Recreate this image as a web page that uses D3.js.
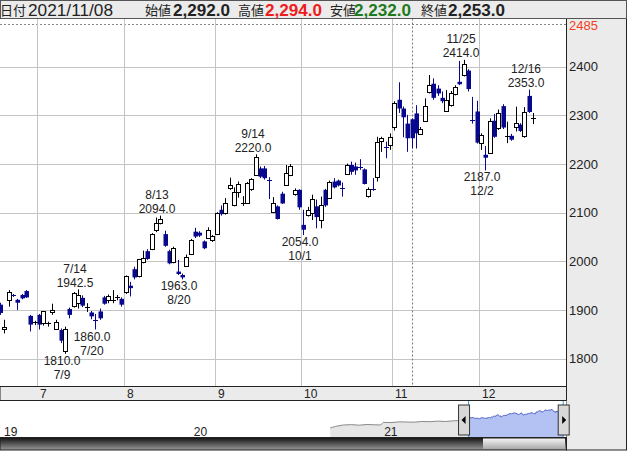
<!DOCTYPE html>
<html><head><meta charset="utf-8">
<script src="https://cdn.jsdelivr.net/npm/d3@7/dist/d3.min.js"></script>
<style>
html,body{margin:0;padding:0;background:#fff;}
svg{display:block;font-family:"Liberation Sans","Noto Sans CJK JP",sans-serif;}
</style></head><body>
<svg id="c" width="636" height="454"></svg>
<script>
// ---------- data ----------
const dates = ["6/18","6/21","6/22","6/23","6/24","6/25","6/28","6/29","6/30",
"7/1","7/2","7/5","7/6","7/7","7/8","7/9","7/12","7/13","7/14","7/15","7/16","7/19","7/20","7/21","7/26","7/27","7/28","7/29","7/30",
"8/2","8/3","8/4","8/5","8/6","8/10","8/11","8/12","8/13","8/16","8/17","8/18","8/19","8/20","8/23","8/24","8/25","8/26","8/27","8/30","8/31",
"9/1","9/2","9/3","9/6","9/7","9/8","9/9","9/10","9/13","9/14","9/15","9/16","9/17","9/21","9/22","9/24","9/27","9/28","9/29","9/30",
"10/1","10/4","10/5","10/6","10/7","10/8","10/11","10/12","10/13","10/14","10/15","10/18","10/19","10/20","10/21","10/22","10/25","10/26","10/27","10/28","10/29",
"11/1","11/2","11/4","11/5","11/8","11/9","11/10","11/11","11/12","11/15","11/16","11/17","11/18","11/19","11/22","11/24","11/25","11/26","11/29","11/30",
"12/1","12/2","12/3","12/6","12/7","12/8","12/9","12/10","12/13","12/14","12/15","12/16","12/17"];
const open = [1911,1860,1921,1930,1921,1931,1939,1888,1872,
1890,1872,1872,1895,1862,1859,1815,1902,1909,1914,1925,1906,1895,1880,1897,1926,1920,1918,1923,1923,
1936,1950,1984,1969,1998,2021,2025,2063,2080,2056,2021,1998,1979,1972,1991,2015,2061,2059,2041,2049,2044,
2056,2106,2099,2150,2116,2143,2118,2119,2148,2178,2191,2191,2168,2101,2113,2139,2157,2178,2138,2147,
2075,2095,2100,2113,2084,2147,2132,2164,2166,2151,2181,2198,2195,2193,2189,2133,2149,2174,2247,2235,2239,
2276,2332,2314,2283,2292,2304,2263,2289,2347,2365,2355,2336,2310,2321,2344,2369,2383,2392,2290,2308,
2244,2219,2224,2289,2273,2319,2254,2258,2276,2281,2256,2340,2293];
const high = [1915,1880,1941,1933,1923,1933,1941,1890,1878,
1892,1898,1876,1913,1880,1862,1866,1905,1937,1942.5,1930,1914,1898,1892,1903,1929,1932,1941,1931,1926,
1971,1958,1989,2005,2022,2025,2058,2090,2094,2063,2024,2030,2003,1975,2014,2046,2069,2062,2043,2070,2054,
2101,2115,2130,2172,2152,2164,2134,2163,2171,2220,2195,2196,2173,2132,2115,2143,2198,2200,2150,2148,
2106,2112,2137,2127,2133,2149,2166,2171,2168,2162,2201,2205,2203,2210,2191,2152,2171,2256,2256,2246,2263,
2329,2368,2318,2301,2294,2321,2276,2335,2383,2376,2362,2349,2352,2350,2362,2412,2414,2395,2338,2330,
2263,2237,2294,2303,2312,2323,2287,2262,2318,2284,2317,2353,2305];
const low = [1890,1852,1907,1927,1900,1922,1925,1856,1869,
1860,1868,1866,1890,1860,1832,1810,1883,1905,1903,1906,1896,1881,1860,1880,1911,1914,1914,1920,1907,
1933,1928,1963,1967,1996,2003,2023,2060,2076,2030,1994,1996,1972,1963,1989,2013,2048,2050,2025,2047,2040,
2054,2094,2096,2147,2113,2131,2114,2118,2145,2176,2171,2168,2128,2099,2086,2118,2155,2175,2135,2106,
2054,2092,2085,2068,2068,2112,2130,2150,2154,2133,2180,2178,2178,2188,2158,2131,2145,2164,2225,2212,2229,
2269,2305,2255,2225,2232,2232,2260,2287,2345,2332,2340,2325,2308,2318,2341,2362,2380,2349,2283,2242,
2229,2187,2222,2254,2270,2272,2243,2248,2267,2266,2254,2305,2282];
const close = [1894,1865,1938,1929,1915,1924,1926,1870,1876,
1870,1897,1873,1900,1876,1837,1861,1890,1935,1931,1909,1907,1887,1879,1883,1913,1928,1921,1926,1911,
1969,1945,1967,2004,2006,2005,2056,2078,2088,2032,1996,2027,1974,1967,2010,2044,2051,2053,2027,2065,2052,
2099,2097,2119,2157,2143,2160,2119,2161,2169,2214,2174,2171,2167,2119,2087,2119,2181,2196,2147,2111,
2065,2106,2128,2091,2115,2115,2164,2152,2156,2150,2199,2184,2187,2189,2159,2148,2148,2246,2254,2234,2255,
2326,2314,2296,2253,2253,2263,2273,2319,2362,2336,2345,2329,2332,2345,2359,2364,2406,2354,2286,2244,
2260,2213,2289,2256,2304,2275,2258,2250,2284,2268,2306,2307,2294];

const yTicks = [1800,1900,2000,2100,2200,2300,2400];
const yTop = 2485;
const monthStarts = ["7/1","8/2","9/1","10/1","11/1","12/1"];
const monthLabels = ["7","8","9","10","11","12"];
const cursorDate = "11/8";

const markDates  = ["7/14","7/9","7/20","8/13","8/20","9/14","10/1","11/25","12/2","12/16"];
const markKinds  = ["high","low","low","high","low","high","low","high","low","high"];
const markValues = ["1942.5","1810.0","1860.0","2094.0","1963.0","2220.0","2054.0","2414.0","2187.0","2353.0"];

const headerLabels = ["日付","始値","高値","安値","終値"];
const headerValues = ["2021/11/08","2,292.0","2,294.0","2,232.0","2,253.0"];

// navigator (overview) series: year labels and earlier closes
const navYears = ["19","20","21"];
const navEarlyDates = ["2020-09-25","2020-10-05","2020-10-20","2020-11-05","2020-11-20","2020-12-05","2020-12-20","2020-12-31",
 "2021-01-05","2021-01-20","2021-02-05","2021-02-20","2021-03-05","2021-03-20","2021-04-05","2021-04-20","2021-05-05","2021-05-20","2021-06-05","2021-06-17"];
const navEarlyClose = [1330,1420,1500,1520,1490,1530,1510,1500,
 1650,1640,1680,1670,1660,1700,1690,1720,1700,1740,1760,1850];

// ---------- drawing ----------
const svg = d3.select("#c");
const W = 636, H = 454;
const plotL = 0, plotR = 566.5, plotT = 18.5, plotB = 386.5;
const step = 4.3333;

const x = d3.scalePoint().domain(dates).range([0, (dates.length-1)*step]);
const y = d3.scaleLinear().domain([1800, 2400]).range([358.7, 66.7]);
const cx = d => Math.round(x(d));

const BLUE = "#08088e";
const GRID = "#c4c4c4";

svg.append("rect").attr("width",W).attr("height",H).attr("fill","#fff");

const clipId = "plotclip";
svg.append("clipPath").attr("id",clipId).append("rect")
  .attr("x",plotL).attr("y",plotT).attr("width",plotR-plotL).attr("height",plotB-plotT);
const g = svg.append("g").attr("clip-path","url(#"+clipId+")");

g.selectAll("line.hg").data(yTicks).join("line")
  .attr("x1",plotL).attr("x2",plotR)
  .attr("y1",d=>Math.round(y(d))+0.5).attr("y2",d=>Math.round(y(d))+0.5)
  .attr("stroke",GRID).attr("stroke-width",1);
g.append("line").attr("x1",plotL).attr("x2",plotR)
  .attr("y1",Math.round(y(yTop))-0.5).attr("y2",Math.round(y(yTop))-0.5)
  .attr("stroke","#888").attr("stroke-dasharray","2,2");
g.selectAll("line.vg").data(monthStarts).join("line")
  .attr("x1",d=>cx(d)-1.5).attr("x2",d=>cx(d)-1.5)
  .attr("y1",plotT).attr("y2",plotB)
  .attr("stroke",GRID);
g.append("line").attr("x1",cx(cursorDate)+0.5).attr("x2",cx(cursorDate)+0.5)
  .attr("y1",plotT).attr("y2",plotB)
  .attr("stroke","#777").attr("stroke-dasharray","2,2");

// candles
const idx = d3.range(dates.length);
const cg = g.append("g");
idx.forEach(i=>{
  const d = dates[i];
  const xc = cx(d);
  const up = close[i] >= open[i];
  const col = up ? "#000" : BLUE;
  cg.append("line").attr("x1",xc+0.5).attr("x2",xc+0.5)
    .attr("y1",y(high[i])).attr("y2",y(low[i])).attr("stroke",col).attr("stroke-width",1);
  const yo = y(open[i]), yc = y(close[i]);
  const top = Math.min(yo,yc), h = Math.abs(yo-yc);
  if (h < 2) {
    cg.append("line").attr("x1",xc-2).attr("x2",xc+3)
      .attr("y1",Math.round(top)+0.5).attr("y2",Math.round(top)+0.5)
      .attr("stroke",col).attr("stroke-width",1.2);
  } else if (up) {
    cg.append("rect").attr("x",xc-1.5).attr("width",4)
      .attr("y",Math.round(top)+0.5).attr("height",Math.max(1,Math.round(h)))
      .attr("fill","#fff").attr("stroke","#000").attr("stroke-width",1);
  } else {
    cg.append("rect").attr("x",xc-1.5).attr("width",4.5)
      .attr("y",top).attr("height",h).attr("fill",BLUE);
  }
});

// high / low annotations
const ag = g.append("g").attr("font-size",12).attr("fill","#222").attr("text-anchor","middle");
markDates.forEach((d,k)=>{
  const i = dates.indexOf(d);
  const tx = cx(d) - 3;
  if (markKinds[k]==="high") {
    const yb = y(high[i]) - 2.5;
    ag.append("text").attr("x",tx).attr("y",yb-14).text(d);
    ag.append("text").attr("x",tx).attr("y",yb).text(markValues[k]);
  } else {
    const yb = y(low[i]) + 11;
    ag.append("text").attr("x",tx).attr("y",yb).text(markValues[k]);
    ag.append("text").attr("x",tx).attr("y",yb+14).text(d);
  }
});

// right axis panel
svg.append("rect").attr("x",plotR).attr("y",plotT).attr("width",626.5-plotR).attr("height",450-plotT)
  .attr("fill","#ebebeb").attr("stroke","#222").attr("stroke-width",1);
svg.selectAll("text.yl").data(yTicks).join("text")
  .attr("x",569).attr("y",d=>y(d)+4.5).attr("font-size",13).attr("fill","#222").text(d=>d);
svg.append("text").attr("x",569).attr("y",y(yTop)+5).attr("font-size",13).attr("fill","#f2401e").text(yTop);

// header
svg.append("rect").attr("x",0.5).attr("y",0.5).attr("width",626).attr("height",18)
  .attr("fill","#ebebeb").attr("stroke","#555");
const hx = [0,145,238,330,421];
const vx = [28,173,265,354,448];
const vcol = ["#222","#222","#ee1c1c","#1d7a1d","#222"];
headerLabels.forEach((t,k)=>{
  svg.append("text").attr("x",hx[k]).attr("y",15).attr("font-size",13)
    .attr("font-family","'Noto Sans CJK JP',sans-serif").attr("fill","#222").text(t);
  svg.append("text").attr("x",vx[k]).attr("y",15.5).attr("font-size",16)
    .attr("font-weight",k===0?"normal":"bold").attr("fill",vcol[k])
    .attr("textLength",k===0?85:57).attr("lengthAdjust","spacingAndGlyphs").text(headerValues[k]);
});

// month strip
svg.append("rect").attr("x",0).attr("y",386.5).attr("width",plotR).attr("height",14)
  .attr("fill","#ebebeb").attr("stroke","#222");
monthStarts.forEach((d,k)=>{
  svg.append("text").attr("x",cx(d)+1).attr("y",398).attr("font-size",12).attr("fill","#222").text(monthLabels[k]);
});

// navigator
const navT = 400.5, navB = 437.5;
svg.append("rect").attr("x",0).attr("y",navT).attr("width",plotR).attr("height",navB-navT).attr("fill","#fff");
const parse = d3.timeParse("%Y-%m-%d");
const nx = d3.scaleTime().domain([new Date(2019,0,1), new Date(2022,0,1)]).range([1, 571]);
const ny = d3.scaleLinear().domain([1000,2500]).range([433.75, 407.5]);
const early = navEarlyDates.map((d,i)=>({t:parse(d), v:navEarlyClose[i]}));
const recent = dates.map((d,i)=>{const p=d.split("/"); return {t:new Date(2021,+p[0]-1,+p[1]), v:close[i]};});
const area = d3.area().x(d=>nx(d.t)).y0(navB).y1(d=>ny(d.v));
const line = d3.line().x(d=>nx(d.t)).y(d=>ny(d.v));
const earlyAll = early.concat([recent[0]]);
svg.append("path").attr("d",area(earlyAll)).attr("fill","#e6e6e6");
svg.append("path").attr("d",line(earlyAll)).attr("fill","none").attr("stroke","#8a8a8a");
svg.append("path").attr("d",area(recent)).attr("fill","#b3c2f2");
svg.append("path").attr("d",line(recent)).attr("fill","none").attr("stroke","#5060c8");
navYears.forEach((t,k)=>{
  svg.append("text").attr("x",nx(new Date(2019+k,0,1))+3).attr("y",436).attr("font-size",12).attr("fill","#222").text(t);
});
const hL = nx(recent[0].t), hR = nx(recent[recent.length-1].t);
[hL,hR].forEach((hx0,k)=>{
  const gx = k===0 ? hx0-10 : hx0-5;
  svg.append("line").attr("x1",hx0).attr("x2",hx0).attr("y1",navT).attr("y2",navB).attr("stroke","#3aa0d8");
  svg.append("rect").attr("x",gx).attr("y",405).attr("width",11).attr("height",30)
    .attr("fill","#d8d8d8").attr("stroke","#333");
  svg.append("path").attr("d", k===0 ? `M${gx+7},${416} L${gx+3},${420} L${gx+7},${424} Z` : `M${gx+4},${416} L${gx+8},${420} L${gx+4},${424} Z`)
    .attr("fill","#000");
});
const defs = svg.append("defs");
const lg = defs.append("linearGradient").attr("id","sb").attr("x1",0).attr("x2",0).attr("y1",0).attr("y2",1);
lg.append("stop").attr("offset","0%").attr("stop-color","#111");
lg.append("stop").attr("offset","100%").attr("stop-color","#999");
const lg2 = defs.append("linearGradient").attr("id","th").attr("x1",0).attr("x2",0).attr("y1",0).attr("y2",1);
lg2.append("stop").attr("offset","0%").attr("stop-color","#f4f4f4");
lg2.append("stop").attr("offset","100%").attr("stop-color","#aaa");
svg.append("rect").attr("x",0).attr("y",navB).attr("width",plotR).attr("height",12.5).attr("fill","url(#sb)").attr("stroke","#222");
svg.append("rect").attr("x",483).attr("y",navB+1).attr("width",82).attr("height",10.5).attr("fill","url(#th)");
svg.append("line").attr("x1",0).attr("x2",plotR).attr("y1",navT).attr("y2",navT).attr("stroke","#222");
</script>
</body></html>
